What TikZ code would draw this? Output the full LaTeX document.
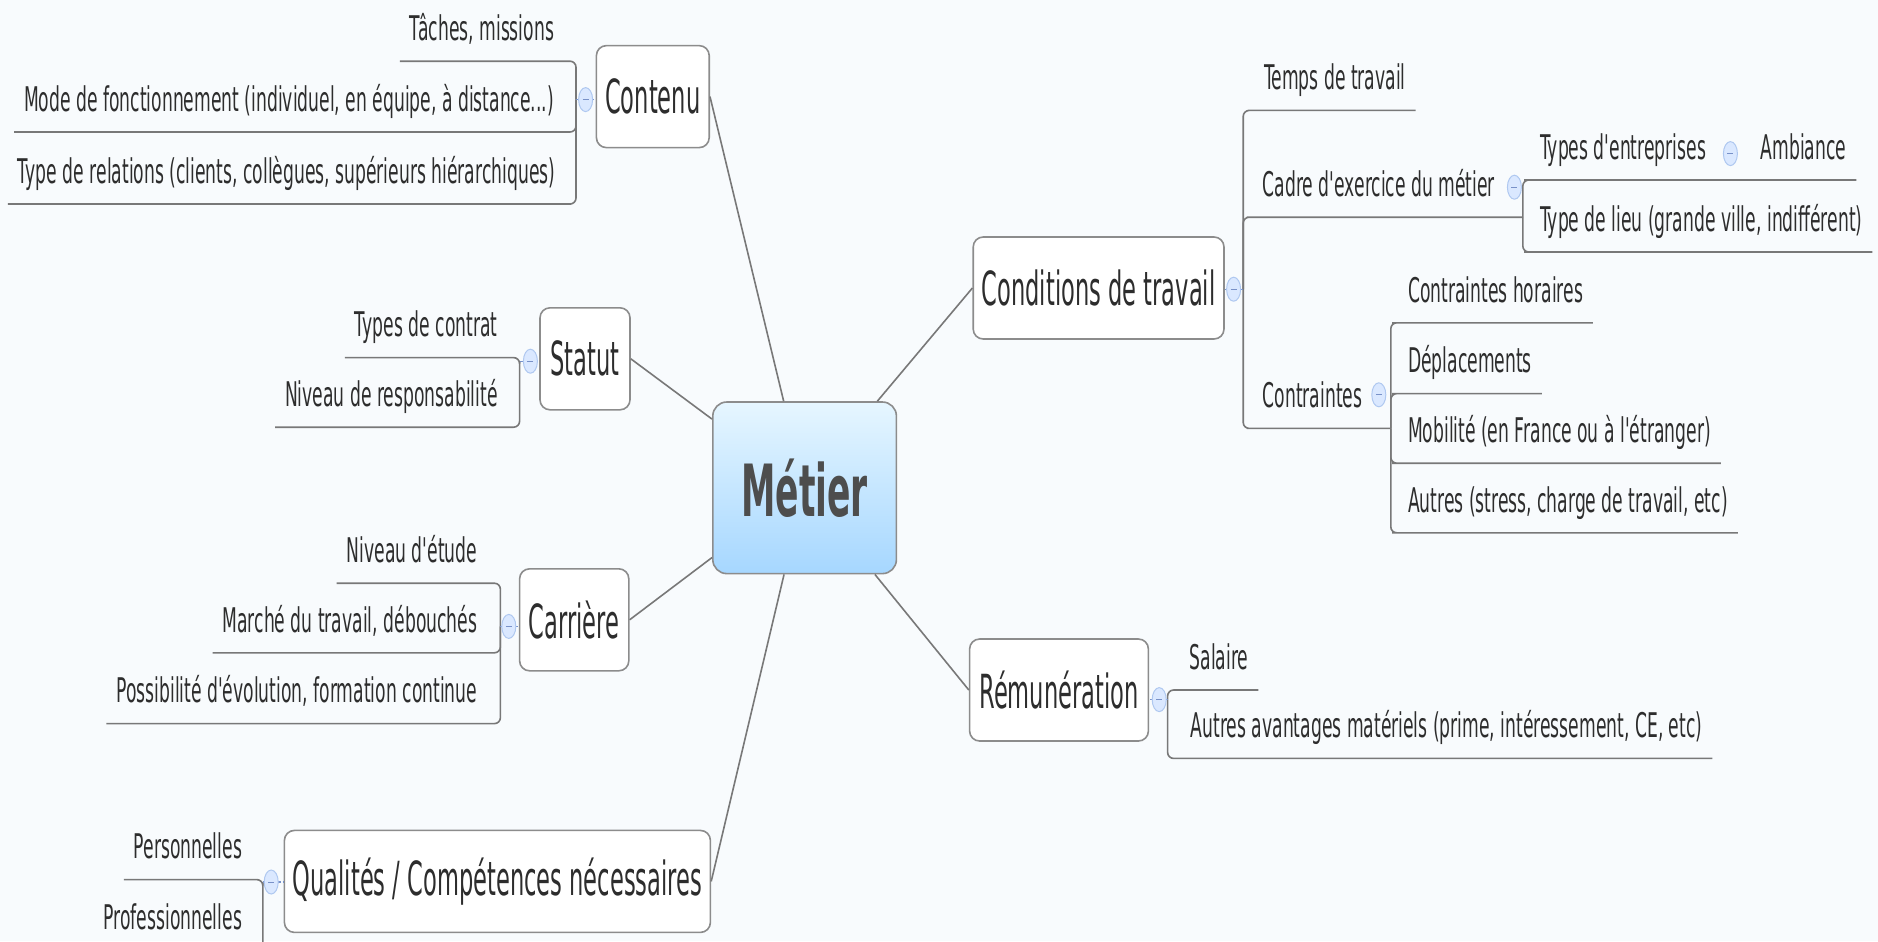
\documentclass[tikz,border=0pt]{standalone}
\usepackage{fontspec}
\setmainfont{DejaVu Sans}[FakeStretch=0.48]
\newfontfamily\subfont{DejaVu Sans}[FakeStretch=0.505]
\usetikzlibrary{shapes.geometric}
\definecolor{bgc}{RGB}{248,251,253}
\definecolor{txt}{RGB}{45,45,45}
\definecolor{cent}{RGB}{77,77,77}
\definecolor{linec}{RGB}{120,120,120}
\definecolor{boxc}{RGB}{140,140,140}
\definecolor{topc}{RGB}{230,246,255}
\definecolor{botc}{RGB}{166,215,255}
\definecolor{togfill}{RGB}{218,232,255}
\definecolor{togdraw}{RGB}{175,200,240}
\definecolor{togmark}{RGB}{120,145,200}
\begin{document}
\begin{tikzpicture}[x=0.6pt,y=-0.6pt,
  topicbox/.style={draw=boxc, line width=0.8pt, fill=white, rounded corners=5pt, minimum height=51pt, inner sep=0pt, text=txt, font=\fontsize{23.5}{26}\selectfont},
  central/.style={draw=boxc, line width=0.8pt, rounded corners=7pt, top color=topc, bottom color=botc, minimum width=91.8pt, minimum height=85.8pt, inner sep=0pt, text=cent, font=\fontsize{36}{40}\selectfont\bfseries},
  subbase/.style={inner xsep=4.8pt, inner ysep=0pt, text height=12.5pt, text depth=10.2pt, text=txt, font=\subfont\fontsize{17}{20}\selectfont},
  subL/.style={subbase, anchor=south east},
  subR/.style={subbase, anchor=south west},
  tree/.style={draw=linec, line width=0.8pt, rounded corners=3pt},
  link/.style={draw=linec, line width=0.8pt},
  stub/.style={draw=togmark, line width=0.6pt, dash pattern=on 1.5pt off 1pt},
  toggle/.style={ellipse, draw=togdraw, fill=togfill, line width=0.5pt, minimum width=7pt, minimum height=12pt, inner sep=0pt,
    path picture={\draw[togmark, line width=0.5pt] ([xshift=-1.5pt]path picture bounding box.center) -- ([xshift=1.5pt]path picture bounding box.center);}},
]
\useasboundingbox (0,0) rectangle (1565,784.2);
\fill[bgc] (0,0) rectangle (1565,784.2);

% central and main topics
\node[central] (metier) at (670.5,406.5) {Métier};
\node[topicbox, minimum width=56.4pt] (contenu) at (544,80.5) {Contenu};
\node[topicbox, minimum width=45pt] (statut) at (487.5,299) {Statut};
\node[topicbox, minimum width=54.6pt] (carriere) at (478.5,516.5) {Carrière};
\node[topicbox, minimum width=213pt] (qualites) at (414.5,734.5) {Qualités / Compétences nécessaires};
\node[topicbox, minimum width=125.4pt] (conditions) at (915.5,240) {Conditions de travail};
\node[topicbox, minimum width=89.4pt] (remun) at (882.5,575) {Rémunération};

\draw[link] (metier) -- (contenu.east);
\draw[link] (metier) -- (statut.east);
\draw[link] (metier) -- (carriere.east);
\draw[link] (metier) -- (qualites.east);
\draw[link] (metier) -- (conditions.west);
\draw[link] (metier) -- (remun.west);

% left subtopics
\node[subL] (taches) at (470,51) {Tâches, missions};
\node[subL] (mode) at (470,110) {Mode de fonctionnement (individuel, en équipe, à distance...)};
\node[subL] (relations) at (471,170) {Type de relations (clients, collègues, supérieurs hiérarchiques)};
\node[subL] (contrat) at (423,298) {Types de contrat};
\node[subL] (respons) at (423,356) {Niveau de responsabilité};
\node[subL] (etude) at (406,486) {Niveau d'étude};
\node[subL] (marche) at (406,544) {Marché du travail, débouchés};
\node[subL] (possib) at (406,603) {Possibilité d'évolution, formation continue};
\node[subL] (perso) at (210,733) {Personnelles};
\node[subL] (profess) at (210,792) {Professionnelles};

% right subtopics
\node[subR] (temps) at (1045,92) {Temps de travail};
\node[subR] (cadre) at (1044,181) {Cadre d'exercice du métier};
\node[subR] (contr) at (1044,357) {Contraintes};
\node[subR] (types) at (1275,150) {Types d'entreprises};
\node[subR] (amb) at (1459,150) {Ambiance};
\node[subR] (lieu) at (1275,210) {Type de lieu (grande ville, indifférent)};
\node[subR] (horaires) at (1165,269) {Contraintes horaires};
\node[subR] (depl) at (1165,328) {Déplacements};
\node[subR] (mobil) at (1165,386) {Mobilité (en France ou à l'étranger)};
\node[subR] (autres) at (1165,444) {Autres (stress, charge de travail, etc)};
\node[subR] (salaire) at (983,575) {Salaire};
\node[subR] (avant) at (984,632) {Autres avantages matériels (prime, intéressement, CE, etc)};

% junctions
\coordinate (jC) at (480,83);
\coordinate (jS) at (433,301);
\coordinate (jK) at (417,522);
\coordinate (jQ) at (219,735);
\coordinate (jT) at (1036,241);
\coordinate (j2) at (1269,181);
\coordinate (j3) at (1159,357);
\coordinate (jR) at (973,583);

% trees
\foreach \c in {taches,mode,relations}{\draw[tree] (jC) |- (\c.south east) -- (\c.south west);}
\foreach \c in {contrat,respons}{\draw[tree] (jS) |- (\c.south east) -- (\c.south west);}
\foreach \c in {etude,marche,possib}{\draw[tree] (jK) |- (\c.south east) -- (\c.south west);}
\foreach \c in {perso,profess}{\draw[tree] (jQ) |- (\c.south east) -- (\c.south west);}
\draw[tree] (jT) |- (temps.south west) -- (temps.south east);
\draw[tree] (jT) |- (cadre.south west) -- (cadre.south east) -- (j2);
\draw[tree] (jT) |- (contr.south west) -- (contr.south east) -- (j3);
\draw[tree] (j2) |- (types.south west) -- (types.south east) -- (amb.south west) -- (amb.south east);
\draw[tree] (j2) |- (lieu.south west) -- (lieu.south east);
\foreach \c in {horaires,depl,mobil,autres}{\draw[tree] (j3) |- (\c.south west) -- (\c.south east);}
\foreach \c in {salaire,avant}{\draw[tree] (jR) |- (\c.south west) -- (\c.south east);}

% stubs and toggles
\draw[stub] (jC) -- (contenu.west |- jC);
\draw[stub] (jS) -- (statut.west |- jS);
\draw[stub] (jK) -- (carriere.west |- jK);
\draw[stub] (jQ) -- (qualites.west |- jQ);
\draw[stub] (jT) -- (conditions.east |- jT);
\draw[stub] (jR) -- (remun.east |- jR);
\node[toggle] (tgC) at (488,83) {};
\node[toggle] (tgS) at (442,301) {};
\node[toggle] (tgK) at (424,522) {};
\node[toggle] (tgQ) at (226,735) {};
\node[toggle] (tgT) at (1028,241) {};
\node[toggle] (tgR) at (966,583) {};
\node[toggle] (tgCadre) at (1262,156) {};
\node[toggle] (tgTypes) at (1442,128) {};
\node[toggle] (tgContr) at (1149,329) {};
\end{tikzpicture}
\end{document}
